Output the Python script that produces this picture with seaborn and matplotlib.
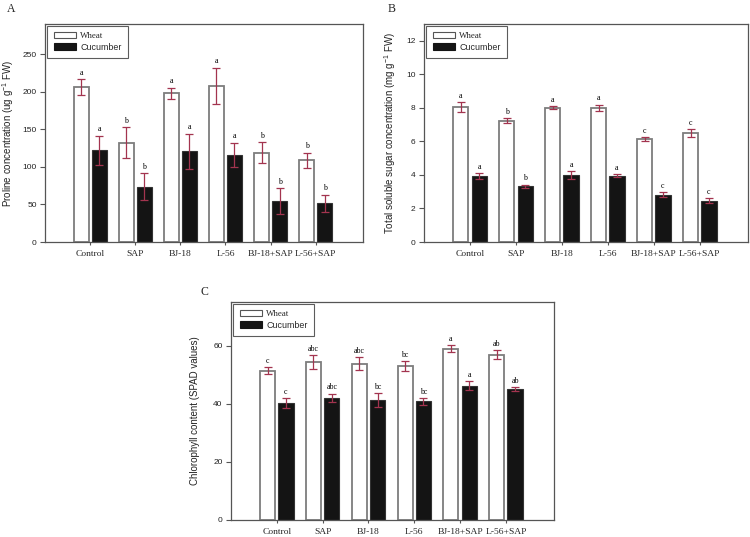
import matplotlib
matplotlib.use("Agg")
import matplotlib.pyplot as plt
from matplotlib.patches import Patch
import seaborn as sns
import pandas as pd

# ---------------- data ----------------
treatments = ["Control", "SAP", "BJ-18", "L-56", "BJ-18+SAP", "L-56+SAP"]
crops = ["Wheat", "Cucumber"]

proline_wheat = [206, 132, 198, 208, 118.5, 109]
proline_wheat_err = [11, 20.5, 7.5, 24, 14, 10]
proline_cuc = [122, 73.6, 120.7, 115.8, 54.6, 51.5]
proline_cuc_err = [19.5, 18, 23.5, 16.5, 17, 11.5]
proline_wheat_let = ["a", "b", "a", "a", "b", "b"]
proline_cuc_let = ["a", "b", "a", "a", "b", "b"]

sugar_wheat = [8.07, 7.23, 8.0, 7.99, 6.16, 6.5]
sugar_wheat_err = [0.29, 0.16, 0.09, 0.2, 0.12, 0.24]
sugar_cuc = [3.93, 3.32, 4.0, 3.95, 2.82, 2.46]
sugar_cuc_err = [0.16, 0.1, 0.22, 0.09, 0.15, 0.16]
sugar_wheat_let = ["a", "b", "a", "a", "c", "c"]
sugar_cuc_let = ["a", "b", "a", "a", "c", "c"]

chl_wheat = [51.4, 54.3, 53.8, 53.0, 59.0, 56.9]
chl_wheat_err = [1.3, 2.3, 2.3, 1.8, 1.3, 1.5]
chl_cuc = [40.2, 42.1, 41.3, 40.8, 46.2, 45.1]
chl_cuc_err = [1.8, 1.4, 2.3, 1.2, 1.6, 0.7]
chl_wheat_let = ["c", "abc", "abc", "bc", "a", "ab"]
chl_cuc_let = ["c", "abc", "bc", "bc", "a", "ab"]

# ---------------- style ----------------
sns.set_theme(style="ticks")
SANS = ["Liberation Sans", "DejaVu Sans"]
SERIF = ["Liberation Serif", "DejaVu Serif"]
plt.rcParams["font.family"] = SANS
plt.rcParams["mathtext.fontset"] = "custom"
plt.rcParams["mathtext.rm"] = "Liberation Sans"
plt.rcParams["mathtext.it"] = "Liberation Sans:italic"

ERR_COLOR = "#a3344f"
SPINE = "#555555"

W, H = 750, 537
fig = plt.figure(figsize=(7.5, 5.37), dpi=100)


def px_axes(l, r, t, b):
    return fig.add_axes([l / W, 1 - b / H, (r - l) / W, (b - t) / H])


def panel(ax, wheat, wheat_err, cuc, cuc_err, let_w, let_c, ylim, yticks,
          ylabel, label_x):
    df = pd.DataFrame({
        "treatment": treatments * 2,
        "crop": [crops[0]] * len(treatments) + [crops[1]] * len(treatments),
        "value": list(wheat) + list(cuc),
    })
    sns.barplot(data=df, x="treatment", y="value", hue="crop",
                order=treatments, hue_order=crops,
                palette={"Wheat": "white", "Cucumber": "#141414"},
                width=0.8, gap=0.175, errorbar=None, legend=False, ax=ax,
                zorder=2)
    styles = [("#7d7d7d", 1.3), ("#333333", 0.8)]
    for cont, (ec, lw), errs, lets in zip(ax.containers, styles,
                                          [wheat_err, cuc_err], [let_w, let_c]):
        xs, ys = [], []
        for bar in cont:
            bar.set_edgecolor(ec)
            bar.set_linewidth(lw)
            xs.append(bar.get_x() + bar.get_width() / 2)
            ys.append(bar.get_height())
        ax.errorbar(xs, ys, yerr=errs, fmt="none", ecolor=ERR_COLOR,
                    elinewidth=0.9, capsize=2.8, capthick=0.9, zorder=3)
        for x, y, e, t in zip(xs, ys, errs, lets):
            ax.annotate(t, (x, y + e), xytext=(0, 3), textcoords="offset points",
                        ha="center", va="baseline", fontsize=5.8,
                        family=SERIF, color="black")
    ax.set_xlim(-1, 6.05)
    ax.set_ylim(*ylim)
    ax.set_yticks(yticks)
    ax.set_xlabel("")
    ax.set_ylabel(ylabel, fontsize=7.0, family=SANS, color="#222222")
    ax.yaxis.set_label_coords(label_x, 0.5)
    for s in ax.spines.values():
        s.set_visible(True)
        s.set_color(SPINE)
        s.set_linewidth(0.9)
    ax.tick_params(axis="y", direction="out", length=3.5, width=0.8,
                   color=SPINE, pad=2.5, labelsize=6, labelcolor="#222222")
    ax.tick_params(axis="x", direction="out", length=2.5, width=0.8,
                   color=SPINE, pad=3, labelsize=6.8)
    for t in ax.get_xticklabels():
        t.set_family(SERIF)
    handles = [Patch(facecolor="white", edgecolor="#555555", linewidth=0.8),
               Patch(facecolor="#141414", edgecolor="#141414", linewidth=0.8)]
    leg = ax.legend(handles, crops, loc="upper left",
                    bbox_to_anchor=(0.006, 0.993), borderaxespad=0,
                    fontsize=6.4, frameon=True, fancybox=False,
                    handlelength=2.5, handleheight=0.7, handletextpad=0.5,
                    labelspacing=0.25, borderpad=0.75)
    leg.get_frame().set_edgecolor("#333333")
    leg.get_frame().set_linewidth(0.8)
    leg.get_texts()[0].set_family(SERIF)


axA = px_axes(45, 363, 24, 242)
panel(axA, proline_wheat, proline_wheat_err, proline_cuc, proline_cuc_err,
      proline_wheat_let, proline_cuc_let, (0, 290), [0, 50, 100, 150, 200, 250],
      "Proline concentration (ug g$^{-1}$ FW)", -0.092)

axB = px_axes(424, 748, 24, 242)
panel(axB, sugar_wheat, sugar_wheat_err, sugar_cuc, sugar_cuc_err,
      sugar_wheat_let, sugar_cuc_let, (0, 13), [0, 2, 4, 6, 8, 10, 12],
      "Total soluble sugar concentration (mg g$^{-1}$ FW)", -0.081)

axC = px_axes(231, 554, 302, 520)
panel(axC, chl_wheat, chl_wheat_err, chl_cuc, chl_cuc_err,
      chl_wheat_let, chl_cuc_let, (0, 75), [0, 20, 40, 60],
      "Chlorophyll content (SPAD values)", -0.096)

for lab, x, y in [("A", 7, 11.5), ("B", 388, 11.5), ("C", 200.5, 295)]:
    fig.text(x / W, 1 - y / H, lab, fontsize=8.5, family=SERIF,
             ha="left", va="baseline")

fig.savefig("out.png", dpi=100)
